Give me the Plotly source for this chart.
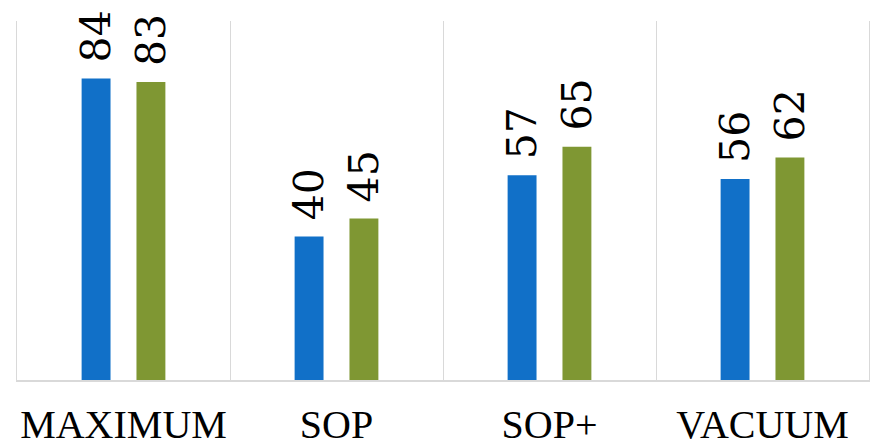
import plotly.graph_objects as go

categories = ["MAXIMUM", "SOP", "SOP+", "VACUUM"]
series_a = [84, 40, 57, 56]
series_b = [83, 45, 65, 62]

BLUE = "#1170C8"
GREEN = "#7F9733"
GRID = "#D9D9D9"
LABEL_FONT = dict(family="DejaVu Serif", size=41, color="#000000")

fig = go.Figure()
for name, vals, color in [("A", series_a, BLUE), ("B", series_b, GREEN)]:
    fig.add_trace(go.Bar(
        x=categories, y=vals, name=name,
        marker=dict(color=color, line=dict(width=0)),
        text=[f"{v}" for v in vals], texttemplate="\u00a0%{text}",
        textposition="outside", textangle=-90,
        textfont=LABEL_FONT, outsidetextfont=LABEL_FONT,
        constraintext="none", cliponaxis=False,
    ))

fig.update_layout(
    width=877, height=446,
    margin=dict(l=17, r=8, t=21, b=66),
    barmode="group", bargap=0.485, bargroupgap=0.473,
    plot_bgcolor="white", paper_bgcolor="white",
    showlegend=False,
    font=dict(family="Liberation Serif"),
    xaxis=dict(
        type="category", range=[-0.5, 3.5], tickson="boundaries",
        showgrid=True, gridcolor=GRID, gridwidth=1.3,
        showline=True, linecolor=GRID, linewidth=2,
        ticks="", ticklabelstandoff=8, automargin=False, tickangle=0,
        tickfont=dict(family="Liberation Serif", size=40, color="#000000"),
    ),
    yaxis=dict(
        range=[0, 100], showgrid=False, zeroline=False, automargin=False,
        showline=True, mirror=True, linecolor=GRID, linewidth=1.3,
        showticklabels=False, ticks="",
    ),
)

fig.write_html("out.html")
